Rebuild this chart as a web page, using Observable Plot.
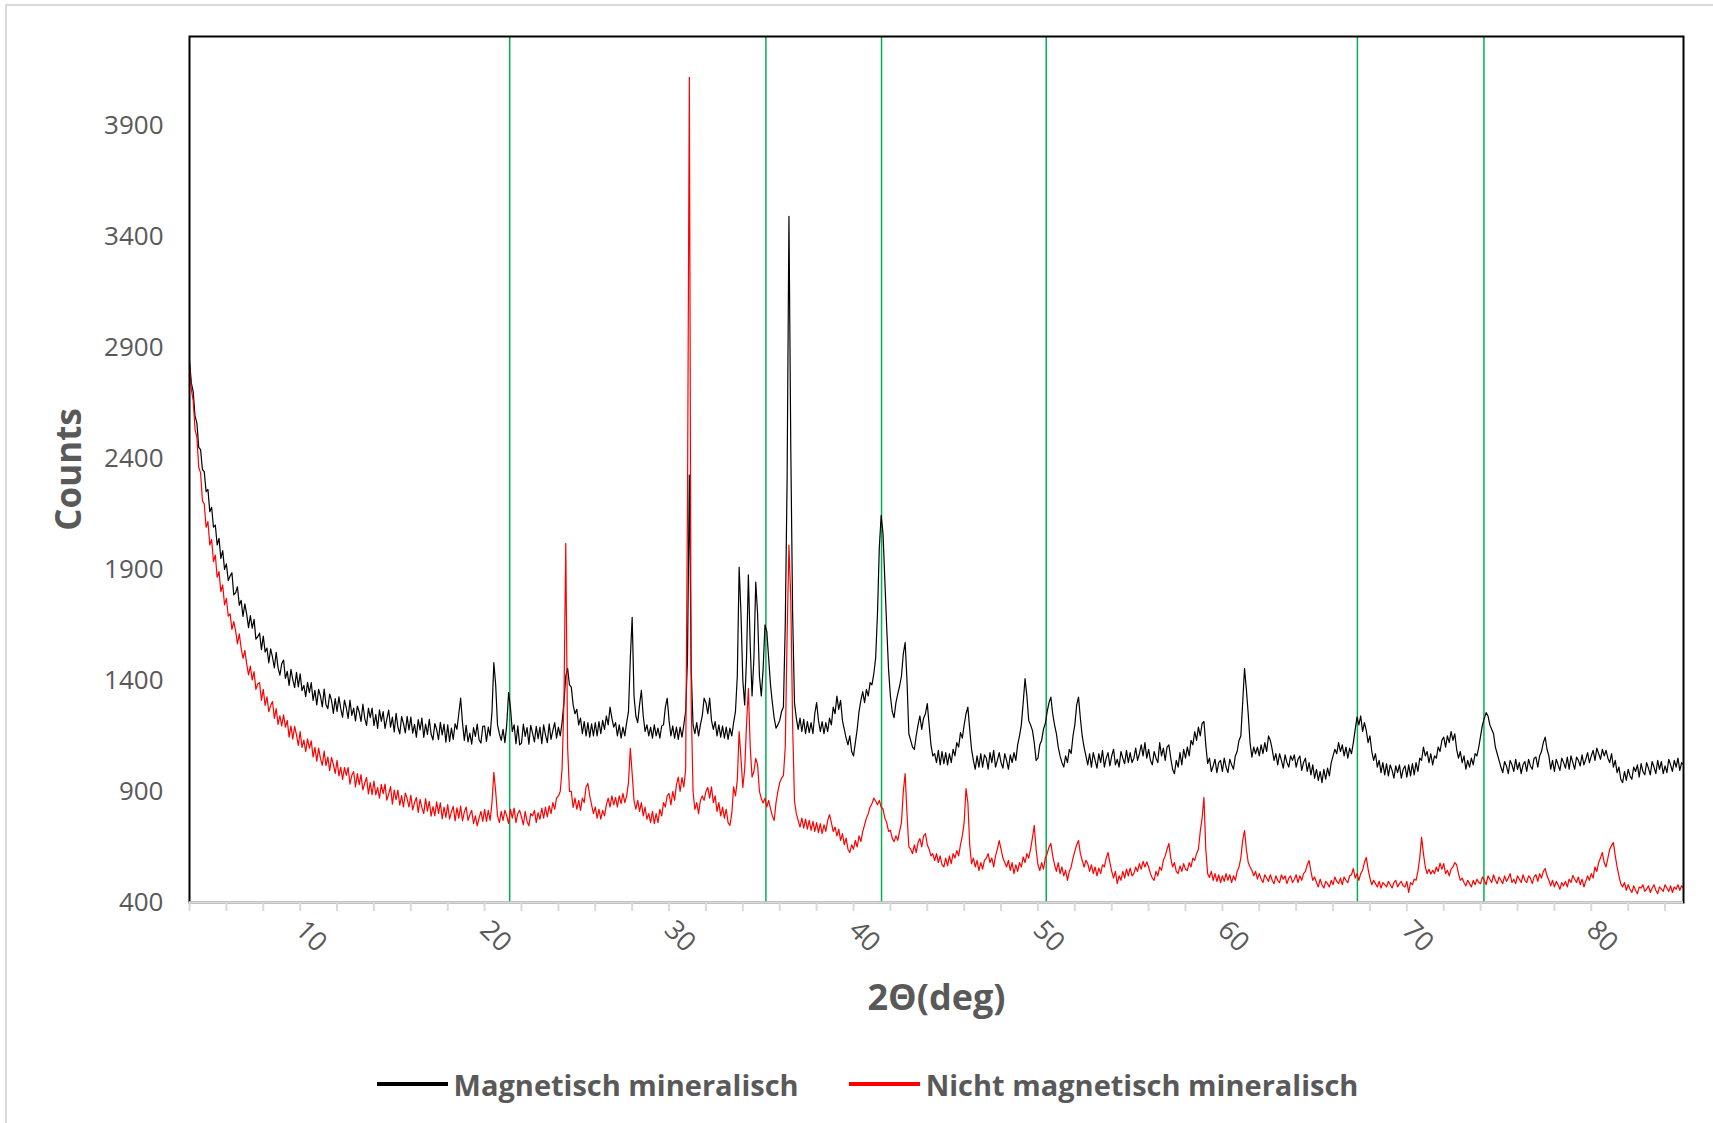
<!DOCTYPE html>
<html>
<head>
<meta charset="utf-8">
<script src="https://cdn.jsdelivr.net/npm/d3@7"></script>
<script src="https://cdn.jsdelivr.net/npm/@observablehq/plot@0.6"></script>
<style>
  html, body { margin: 0; padding: 0; background: #fff; }
  #wrap { position: relative; width: 1713px; height: 1123px; overflow: hidden; background: #fff; font-family: "Open Sans", sans-serif; }
  #border { position: absolute; left: 5px; top: 4px; width: 1730px; height: 1140px; border: 2px solid #d9d9d9; box-sizing: border-box; pointer-events: none; }
  #chart { position: absolute; left: 0; top: 0; }
  #legend { position: absolute; left: 22px; top: 1058px; width: 1691px; height: 52px; display: flex; align-items: center; justify-content: center; }
  .item { display: flex; align-items: center; }
  .item + .item { margin-left: 50px; }
  .sw { width: 71px; height: 4px; margin-right: 6px; }
  .lb { font-family: "Open Sans", sans-serif; font-weight: 700; font-size: 29px; color: #595959; white-space: nowrap; }
</style>
</head>
<body>
<div id="wrap">
  <div id="border"></div>
  <div id="chart"></div>
  <div id="legend"></div>
</div>
<script>
// ---- data ----
const twoThetaStart = 4.0;   // first measured angle (deg)
const twoThetaStep = 0.1;    // measurement step (deg)

const seriesNames = ["Magnetisch mineralisch", "Nicht magnetisch mineralisch"];
const seriesColors = ["#000000", "#ff0000"];

const magnetisch = [
2840,2740,2700,2590,2560,2450,2440,2350,2340,2250,
2260,2160,2180,2090,2100,2010,2040,1950,1985,1900,
1925,1850,1870,1885,1785,1795,1822,1739,1761,1688,
1745,1699,1638,1692,1636,1675,1586,1597,1613,1539,
1600,1528,1546,1479,1542,1505,1456,1527,1458,1424,
1475,1492,1409,1441,1378,1450,1404,1368,1437,1371,
1430,1354,1378,1327,1391,1345,1390,1310,1355,1290,
1360,1330,1281,1361,1292,1273,1339,1310,1252,1318,
1260,1326,1273,1234,1311,1277,1229,1311,1243,1275,
1218,1285,1258,1215,1293,1230,1197,1275,1232,1275,
1197,1246,1184,1268,1216,1260,1184,1227,1266,1190,
1235,1168,1252,1190,1159,1237,1206,1164,1238,1177,
1235,1163,1202,1145,1224,1177,1231,1144,1203,1157,
1225,1159,1132,1206,1179,1133,1211,1155,1203,1122,
1200,1125,1185,1135,1205,1180,1250,1320,1210,1130,
1198,1123,1163,1113,1188,1148,1203,1133,1118,1193,
1195,1125,1190,1150,1260,1480,1380,1200,1160,1130,
1180,1120,1200,1345,1280,1170,1200,1115,1195,1110,
1118,1203,1148,1188,1113,1198,1163,1123,1193,1138,
1190,1115,1200,1155,1120,1205,1135,1175,1210,1140,
1190,1150,1210,1300,1420,1455,1380,1370,1290,1250,
1270,1200,1230,1160,1215,1150,1210,1145,1205,1150,
1210,1150,1215,1160,1220,1180,1240,1200,1280,1230,
1190,1210,1150,1200,1140,1190,1150,1210,1260,1500,
1684,1330,1240,1210,1290,1355,1240,1170,1200,1150,
1190,1140,1200,1150,1185,1140,1195,1200,1280,1320,
1220,1150,1195,1140,1190,1135,1190,1145,1200,1260,
1500,2325,1450,1200,1160,1210,1150,1200,1240,1320,
1300,1250,1320,1220,1180,1215,1150,1200,1145,1195,
1140,1190,1135,1185,1150,1210,1260,1420,1910,1700,
1400,1290,1500,1875,1560,1330,1500,1843,1700,1420,
1330,1450,1650,1620,1500,1380,1300,1230,1185,1200,
1220,1260,1280,1650,2300,3490,2445,1700,1300,1230,
1180,1230,1170,1225,1160,1215,1165,1210,1160,1250,
1300,1220,1170,1215,1160,1210,1170,1230,1200,1280,
1250,1330,1270,1310,1220,1180,1140,1110,1150,1080,
1060,1120,1180,1260,1310,1350,1300,1360,1330,1390,
1380,1430,1500,1700,2000,2143,2060,1850,1640,1450,
1330,1260,1232,1300,1340,1375,1420,1520,1571,1400,
1160,1130,1100,1090,1150,1200,1240,1180,1230,1250,
1296,1200,1110,1060,1070,1030,1085,1020,1080,1025,
1075,1020,1070,1030,1090,1060,1120,1100,1165,1140,
1200,1250,1280,1180,1090,1040,1000,1060,1010,1070,
1010,1065,1050,1000,1075,1030,1085,1010,1040,1075,
1030,1005,1070,1040,1000,1065,1030,1075,1040,1110,
1150,1200,1300,1408,1330,1220,1200,1175,1120,1040,
1050,1110,1130,1180,1206,1260,1300,1325,1250,1200,
1161,1100,1060,1030,1010,1060,1030,1090,1071,1150,
1200,1290,1325,1230,1150,1100,1060,1020,1070,1010,
1075,1040,1005,1070,1030,1085,1010,1050,1075,1015,
1060,1090,1020,1045,1010,1080,1050,1025,1085,1030,
1075,1030,1050,1095,1040,1070,1110,1060,1120,1050,
1090,1040,1020,1080,1050,1030,1120,1060,1095,1040,
1100,1110,1050,1000,980,1040,1010,1075,1020,1090,
1050,1100,1060,1130,1110,1170,1130,1190,1150,1206,
1215,1110,1026,1050,990,1015,1045,985,1030,1040,
990,1050,1010,985,1045,1020,1000,1060,1080,1130,
1150,1300,1454,1360,1250,1120,1055,1100,1070,1100,
1060,1110,1070,1120,1080,1150,1130,1090,1040,1070,
1020,1070,1040,1005,1065,1030,1010,1060,1040,1065,
1010,1045,1060,995,1030,1050,990,1030,975,1020,
960,1000,950,990,940,1000,955,1005,970,1030,
1060,1090,1070,1120,1080,1110,1060,1100,1050,1095,
1070,1120,1180,1235,1200,1240,1170,1210,1175,1120,
1150,1080,1040,1070,1010,1040,985,1030,975,1025,
970,1020,995,960,1015,985,1020,960,1000,1015,
965,1020,970,1025,975,1030,990,1050,1040,1100,
1060,1080,1030,1070,1020,1060,1050,1100,1080,1130,
1145,1100,1150,1120,1170,1130,1160,1090,1050,1080,
1030,1060,1000,1040,1010,1050,1020,1070,1060,1100,
1150,1200,1230,1255,1240,1200,1180,1160,1100,1070,
1040,1010,985,1035,1015,980,1040,1020,990,1045,
1000,1030,980,1020,1035,990,1045,1015,1000,1050,
1055,1010,1060,1080,1120,1145,1090,1060,1000,1040,
990,1045,1020,995,1050,1030,1005,1055,1000,1060,
1030,1000,1055,1040,1015,1065,1020,1045,1075,1030,
1060,1085,1040,1095,1070,1045,1090,1060,1085,1050,
1030,1070,1010,1040,985,1010,955,940,990,950,
1000,970,955,1010,990,1020,965,1025,990,975,
1030,1005,975,1035,1010,980,1040,1000,1035,980,
1015,985,1045,1020,990,1040,1010,1050,995,1030,
1020
];

const nichtMagnetisch = [
2820,2710,2660,2530,2495,2360,2335,2210,2195,2090,
2115,2010,2035,1935,1965,1865,1890,1800,1830,1740,
1770,1690,1700,1630,1665,1623,1565,1610,1545,1500,
1535,1475,1425,1465,1402,1440,1360,1385,1390,1310,
1360,1288,1326,1259,1287,1305,1229,1273,1202,1241,
1195,1245,1190,1220,1145,1195,1136,1193,1155,1107,
1170,1098,1131,1079,1137,1095,1128,1056,1099,1037,
1095,1049,1018,1082,1016,1055,994,1053,1022,981,
1040,970,1009,954,1008,973,1008,933,973,989,
920,980,931,976,907,937,963,889,940,886,
947,885,917,870,932,890,933,861,889,922,
843,906,863,906,838,881,830,893,867,830,
884,817,850,873,806,864,827,800,868,811,
856,789,832,790,853,801,849,777,830,783,
841,775,809,833,767,826,780,834,768,807,
830,770,795,815,755,790,745,780,810,765,
820,765,815,770,850,986,900,790,760,810,
770,815,790,755,820,780,825,760,800,815,
785,750,810,765,745,800,790,815,760,805,
775,825,780,830,785,835,800,850,820,870,
880,900,1000,1300,2017,1100,900,900,828,870,
820,860,815,870,850,920,936,880,840,800,
830,780,820,775,815,790,840,870,830,880,
840,873,830,880,845,891,850,880,940,1094,
980,859,820,860,810,850,790,830,775,800,
760,810,755,800,760,820,790,850,830,880,
891,840,900,860,930,965,900,963,920,1000,
2200,4116,1300,900,819,850,800,860,880,860,
900,918,870,921,850,880,810,850,790,830,
780,820,760,747,800,921,880,950,1170,1050,
918,1000,1200,1364,1100,965,990,1049,1020,900,
868,848,870,830,860,823,790,769,850,900,
940,960,971,1100,1600,2010,1765,1200,857,800,
770,740,780,735,775,730,770,725,765,720,
760,715,755,710,750,720,770,796,760,720,
740,700,730,680,710,660,690,640,625,660,
640,680,650,700,674,720,749,780,800,830,
845,870,857,840,860,830,821,780,760,720,
725,690,674,700,680,720,760,900,981,800,
650,640,620,660,625,670,688,650,700,710,
660,640,610,620,589,620,580,610,570,560,
600,565,610,575,620,600,634,610,660,700,
760,913,850,660,575,600,560,590,544,580,
550,590,600,620,580,600,560,610,640,679,
640,600,580,560,590,545,580,530,570,540,
580,560,605,580,620,600,640,690,747,640,
570,544,580,550,600,620,650,666,610,570,
540,580,530,560,520,545,500,540,560,600,
630,660,679,620,590,560,590,575,540,570,
530,560,520,555,530,570,560,600,625,580,
540,510,540,485,520,500,540,510,550,520,
555,520,530,560,540,575,550,585,560,583,
560,530,510,500,540,520,560,545,590,610,
640,666,600,560,580,540,530,565,540,575,
550,544,580,560,600,590,620,640,720,780,
873,640,530,513,540,500,530,495,525,490,
520,495,530,500,525,490,520,500,540,560,
600,680,724,640,580,560,545,520,540,505,
530,505,490,525,510,495,525,500,485,520,
500,490,525,505,520,485,510,520,490,505,
525,490,520,500,530,540,570,589,540,500,
515,490,470,505,480,465,495,485,470,500,
480,515,495,485,510,480,515,500,490,520,
525,553,510,530,500,530,545,580,603,550,
510,480,500,485,470,495,465,490,480,470,
495,480,465,490,500,470,485,495,475,470,
495,445,490,480,505,500,540,600,693,620,
560,530,550,528,545,530,560,540,577,550,
575,530,545,520,550,560,580,570,530,500,
510,490,475,500,485,470,500,480,505,490,
485,515,500,480,520,505,490,525,500,485,
515,500,485,520,495,510,530,490,505,485,
520,505,490,525,500,490,520,510,485,515,
525,495,530,510,540,553,520,500,475,500,
470,495,480,460,490,475,495,470,505,490,
522,505,490,515,480,505,470,495,520,500,
530,510,560,540,580,600,625,580,560,600,
640,657,670,610,560,520,484,470,490,455,
480,460,445,475,455,440,470,465,480,450,
460,475,445,465,480,455,440,470,460,450,
480,465,450,475,445,470,460,480,455,475,
465
];

const referenceLines = [21.36, 35.25, 41.52, 50.45, 67.32, 74.18]; // green markers (deg)
const xTickLabels = [10, 20, 30, 40, 50, 60, 70, 80];
const xMinorTicks = [4,6,8,10,12,14,16,18,20,22,24,26,28,30,32,34,36,38,40,42,44,46,48,50,52,54,56,58,60,62,64,66,68,70,72,74,76,78,80,82,84];
const yTicks = [400, 900, 1400, 1900, 2400, 2900, 3400, 3900];
const xDomain = [4, 85];
const yDomain = [400, 4300];
const xTitle = "2Θ(deg)";
const yTitle = "Counts";

// ---- build rows ----
const toRows = (vals, name) => vals.map((c, i) => ({angle: twoThetaStart + i * twoThetaStep, counts: c, series: name}));
const rowsM = toRows(magnetisch, seriesNames[0]);
const rowsN = toRows(nichtMagnetisch, seriesNames[1]);

const chart = Plot.plot({
  width: 1713,
  height: 1050,
  marginLeft: 189,
  marginRight: 30,
  marginTop: 36,
  marginBottom: 148,
  x: {domain: xDomain},
  y: {domain: yDomain},
  style: {fontFamily: "'Open Sans', sans-serif", fontSize: "26px", color: "#595959", background: "transparent", overflow: "visible"},
  marks: [
    Plot.ruleX(referenceLines, {stroke: "#00b050", strokeWidth: 1.5}),
    Plot.lineY(rowsM, {x: "angle", y: "counts", stroke: seriesColors[0], strokeWidth: 1.2}),
    Plot.lineY(rowsN, {x: "angle", y: "counts", stroke: seriesColors[1], strokeWidth: 1.2}),
    Plot.frame({stroke: "#000", strokeWidth: 2}),
    Plot.ruleY([yDomain[0]], {stroke: "#d9d9d9", strokeWidth: 2.5}),
    Plot.axisX(xMinorTicks, {tickSize: 9, tickFormat: () => "", stroke: "#d9d9d9", strokeWidth: 2, label: null}),
    Plot.axisX(xTickLabels, {tickSize: 0, tickRotate: 45, tickPadding: 23, fill: "#595959", fontSize: 27, tickFormat: d => String(d), label: null}),
    Plot.axisY(yTicks, {tickSize: 0, tickPadding: 26, fill: "#595959", fontSize: 26, tickFormat: d => String(d), label: null}),
    Plot.text([yTitle], {frameAnchor: "left", dx: -120, rotate: -90, textAnchor: "middle", lineAnchor: "middle", fontWeight: "bold", fontSize: 35, fill: "#595959"}),
    Plot.text([xTitle], {frameAnchor: "bottom", dy: 96, textAnchor: "middle", lineAnchor: "middle", fontWeight: "bold", fontSize: 36, fill: "#595959"})
  ]
});
document.getElementById("chart").appendChild(chart);

// ---- legend ----
const legend = document.getElementById("legend");
seriesNames.forEach((name, i) => {
  const item = document.createElement("div");
  item.className = "item";
  const sw = document.createElement("span");
  sw.className = "sw";
  sw.style.background = seriesColors[i];
  const lb = document.createElement("span");
  lb.className = "lb";
  lb.textContent = name;
  item.appendChild(sw);
  item.appendChild(lb);
  legend.appendChild(item);
});
</script>
</body>
</html>
